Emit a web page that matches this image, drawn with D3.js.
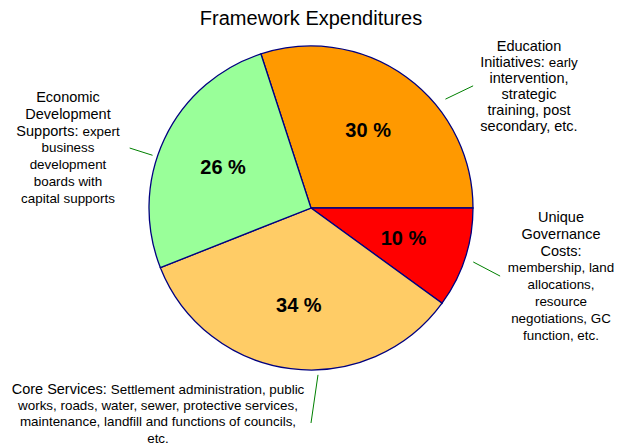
<!DOCTYPE html>
<html>
<head>
<meta charset="utf-8">
<script src="https://cdn.jsdelivr.net/npm/d3@7"></script>
<style>
  body { margin: 0; background: #fff; }
  text { font-family: "Liberation Sans", Arial, sans-serif; fill: #000; }
</style>
</head>
<body>
<div id="chart"></div>
<script>
// data
var categories = ['Education', 'Unique Governance', 'Core Services', 'Economic Development'];
var values = [30, 10, 34, 26];
var pctLabels = ['30 %', '10 %', '34 %', '26 %'];
var colors = ['#FF9900', '#FF0000', '#FFCC66', '#99FF99'];

// label lines: each line is a list of [text, big?]
var labelLines = [
    [[['Education', 1]], [['Initiatives: ', 1], ['early', 0]], [['intervention,', 1]], [['strategic', 1]], [['training, post', 1]], [['secondary, etc.', 1]]],
    [[['Unique', 1]], [['Governance', 1]], [['Costs:', 1]], [['membership, land', 0]], [['allocations,', 0]], [['resource', 0]], [['negotiations, GC', 0]], [['function, etc.', 0]]],
    [[['Core Services:  ', 1], ['Settlement administration, public', 0]], [['works, roads, water, sewer, protective services,', 0]], [['maintenance, landfill and functions of councils,', 0]], [['etc.', 0]]],
    [[['Economic', 1]], [['Development', 1]], [['Supports:  ', 1], ['expert', 0]], [['business', 0]], [['development', 0]], [['boards with', 0]], [['capital supports', 0]]]
];

var W = 618, H = 447;
var cx = 311, cy = 208, R = 162;

var svg = d3.select('#chart').append('svg')
    .attr('width', W).attr('height', H);

svg.append('text')
    .attr('x', cx).attr('y', 25)
    .attr('text-anchor', 'middle')
    .style('font-size', '20px')
    .text('Framework Expenditures');

// first slice starts 18 deg left of the top
var pie = d3.pie().sort(null).value(function(d) { return d; })
    .startAngle(-Math.PI / 10).endAngle(2 * Math.PI - Math.PI / 10);
var arcs = pie(values);
var arc = d3.arc().innerRadius(0).outerRadius(R);

var g = svg.append('g').attr('transform', 'translate(' + cx + ',' + cy + ')');

g.selectAll('path')
    .data(arcs)
    .enter()
    .append('path')
    .attr('d', arc)
    .attr('fill', function(d, i) { return colors[i]; })
    .attr('stroke', '#000080')
    .attr('stroke-width', 1.3);

// percentage labels
var pctArc = d3.arc().innerRadius(R * 0.6).outerRadius(R * 0.6);
g.selectAll('.pct')
    .data(arcs)
    .enter()
    .append('text')
    .attr('class', 'pct')
    .attr('transform', function(d) {
        var c = pctArc.centroid(d);
        return 'translate(' + c[0] + ',' + c[1] + ')';
    })
    .attr('dy', '0.36em')
    .attr('text-anchor', 'middle')
    .style('font-size', '20px')
    .style('font-weight', 'bold')
    .text(function(d, i) { return pctLabels[i]; });

// leader lines: [angle in degrees, r start, angle end, r end]
var leaders = [[51, 173, 53, 203], [108.4, 171, 109.8, 201], [177.6, 167, 180, 215], [288.4, 167, 288.3, 191]];
g.selectAll('.leader')
    .data(leaders)
    .enter()
    .append('line')
    .attr('class', 'leader')
    .each(function(d) {
        var p0 = d3.pointRadial(d[0] * Math.PI / 180, d[1]);
        var p1 = d3.pointRadial(d[2] * Math.PI / 180, d[3]);
        d3.select(this).attr('x1', p0[0]).attr('y1', p0[1]).attr('x2', p1[0]).attr('y2', p1[1]);
    })
    .attr('stroke', '#008000')
    .attr('stroke-width', 1);

// label blocks: [center x, first baseline y, line step]
var labelPos = [[529, 51, 16], [561, 222, 16.8], [158, 394, 16.2], [68, 102, 16.8]];
labelLines.forEach(function(lines, i) {
    var p = labelPos[i];
    var t = svg.append('text')
        .attr('text-anchor', 'middle');
    lines.forEach(function(line, j) {
        var l = t.append('tspan')
            .attr('x', p[0])
            .attr('y', p[1] + j * p[2]);
        line.forEach(function(part) {
            l.append('tspan')
                .style('font-size', part[1] ? '14.5px' : '13.4px')
                .text(part[0]);
        });
    });
});
</script>
</body>
</html>
